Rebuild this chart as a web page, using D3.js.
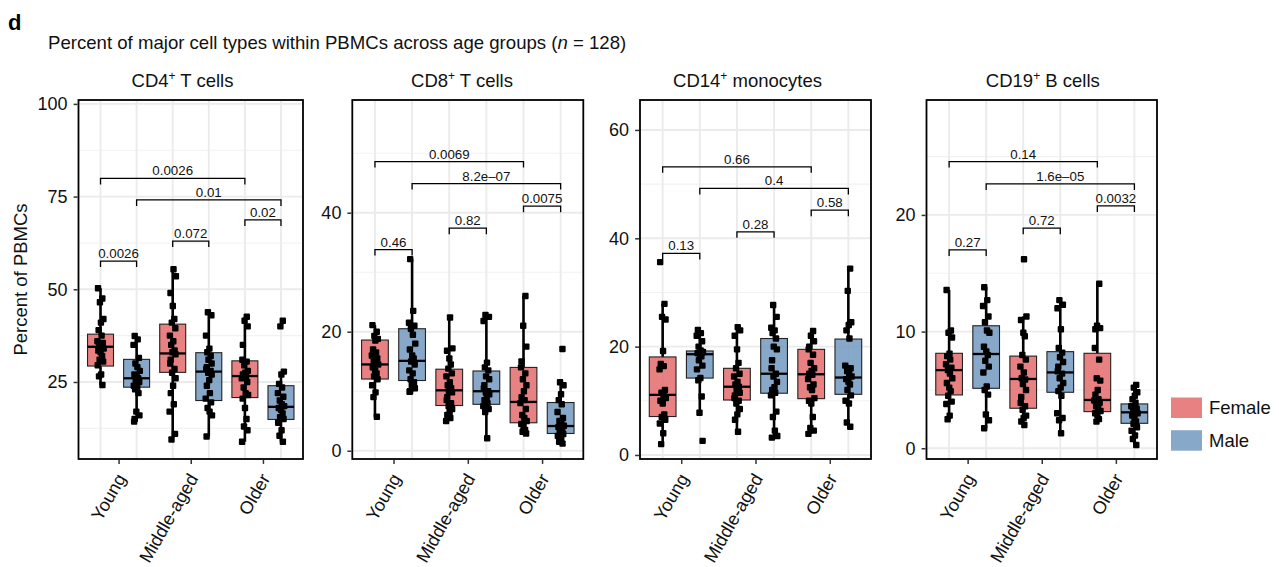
<!DOCTYPE html>
<html><head><meta charset="utf-8">
<script src="https://cdn.jsdelivr.net/npm/d3@7"></script>
<style>body{margin:0;background:#fff} text{font-family:"Liberation Sans",Arial,Helvetica,sans-serif}</style>
</head><body><svg id="c" width="1279" height="567"></svg>
<script>
// ---------- data ----------
const ageGroups = ["Young", "Middle-aged", "Older"];
const sexes = ["Female", "Male"];
const panelNames = ["CD4", "CD8", "CD14", "CD19"];
const panelSuffix = [" T cells", " T cells", " monocytes", " B cells"];
const yTicks = [[25, 50, 75, 100], [0, 20, 40], [0, 20, 40, 60], [0, 10, 20]];
const yMinor = [[12.5, 37.5, 62.5, 87.5], [10, 30, 50], [10, 30, 50], [5, 15, 25]];
const yDomains = [[4.23, 101.05], [-1.39, 58.94], [-0.74, 65.53], [-0.92, 29.85]];

// box stats: [lower whisker, Q1, median, Q3, upper whisker], order YF, YM, MF, MM, OF, OM
const cd4Box = [[24.2,29.3,34.5,37.9,50.3],[14.3,23.6,26.0,31.1,37.4],[9.5,27.6,32.7,40.6,55.4],[10.3,20.0,27.8,32.9,43.8],[8.9,20.8,26.6,30.7,42.6],[8.9,14.9,18.3,24.0,27.8]];
const cd8Box = [[5.7,12.05,14.5,18.6,21.1],[9.9,11.8,15.1,20.5,32.2],[5.0,7.6,10.15,13.7,22.4],[2.1,7.8,10.0,13.4,22.8],[2.9,4.7,8.2,14.0,26.0],[1.2,2.9,4.15,8.1,11.3]];
const cd14Box = [[2.0,7.1,11.1,18.1,27.9],[7.8,14.2,18.6,19.2,23.1],[4.3,10.15,12.6,16.0,23.6],[3.2,11.4,15.0,21.5,27.7],[3.9,10.4,14.9,19.5,22.9],[5.2,11.2,14.3,21.4,34.4]];
const cd19Box = [[2.49,4.57,6.7,8.14,13.57],[1.71,5.14,8.08,10.5,13.8],[2.0,3.43,5.94,7.9,11.3],[1.29,4.8,6.5,8.28,12.7],[2.28,3.14,4.14,8.14,14.1],[0.28,2.14,3.08,3.8,5.43]];

// individual samples
const cd4Points = [
  [50.3,47.5,46.5,42,41,39,37.5,36,35.5,35,34.5,34,33.5,33,32,31,30.5,29.5,27,26.5,24.2],
  [37.4,36.5,35,31.5,30,29,28,27,26.5,26,25.5,25,24,23.5,23,22,17,16,15,14.3],
  [55.4,53.5,49,45.5,42,41,39.5,37.5,36,35,33.5,33,32.5,31,30,28.5,27.5,26,24,22,19,17,11,9.5],
  [43.8,43,37.5,34,33,32,31,30,29,28.5,28,27.5,27,25.5,24,22,20.5,19.5,18,17,16,10.3],
  [42.6,41.5,40,35,31,30.5,29.5,28,27.5,27,26.5,26,25,23.5,22,21.5,20.5,18,15,13,12,8.9],
  [41.5,40,27.8,27,24.5,23.5,22,21,20,19,18.5,18,17.5,16.5,15.5,15,14,12,10.5,8.9]
];
const cd8Points = [
  [21.1,20,19.3,18.8,18.5,17,16.5,16,15.5,15,14.8,14.5,14,13.5,13,12.5,12,11,9.8,9,5.7],
  [32.2,23.5,21.5,21,20.5,19.5,18,17,16,15.5,15,14.5,13.5,13,12,11.5,11,10.5,10,9.9],
  [22.4,17.2,16.8,15.5,14.5,13.8,13,12.5,11.5,11,10.5,10,9.8,9,8.5,8,7.5,7,6.5,6,5.5,5.0],
  [22.8,22.5,21.8,14.8,14,13.5,12.5,12,11,10.5,10,9.8,9.5,9,8.5,8,7.5,7,6.5,2.1],
  [26.0,21,17.5,15,14,13,12,11,10,9,8.5,8,7,6,5.5,5,4.5,4,3.5,3.2,2.9],
  [17.1,11.5,11,9.5,8.5,7.8,6.5,5.5,5,4.5,4.2,4,3.5,3.2,3,2.8,2.5,2,1.5,1.2]
];
const cd14Points = [
  [35.6,27.9,25.5,25,19.2,16.8,16.4,15.8,12,11.5,11.1,10.5,10,9.5,7.5,7,6.5,5.8,4,2.0],
  [23.1,22.5,22,21,20,19.3,19,18.8,18.6,18.2,17.5,16.5,15.8,14.2,13.8,10.8,7.8,2.6],
  [23.6,23,22,19.5,17,16,15,14.5,13.5,13,12.6,12,11.5,11,10.5,10,9.5,8.5,7.5,6.5,4.3],
  [27.7,25.5,23.5,23,22.5,21.5,20,19.5,17.5,16,15,14.5,13.5,12.5,12,11.5,11,8,7,4.5,3.5,3.2],
  [22.9,22,21,20,19.5,18.5,17,16,15.5,15,14.8,14,13,12.5,12,10.5,10,9.5,7,5,4.5,3.9],
  [34.4,30.3,24.5,24,23,21.5,16.5,16,15.5,15,14.5,14,13.5,13,12,11,10,9.5,6,5.2]
];
const cd19Points = [
  [13.57,10.1,9.9,9.5,8.1,7.9,7.6,7.2,6.9,6.7,6.4,6.0,5.6,5.2,4.9,4.5,4.0,3.8,2.8,2.49],
  [13.8,12.7,12.2,11.3,10.8,10.1,9.9,8.7,8.3,8.0,7.5,7.0,6.5,5.3,5.0,4.6,2.9,2.4,1.71],
  [16.2,11.3,11.0,9.9,9.6,8.0,7.6,7.0,6.5,6.0,5.9,5.5,5.0,4.4,3.9,3.6,3.3,2.8,2.6,2.3,2.0],
  [12.7,12.3,12.0,10.2,8.6,8.2,7.8,7.4,7.0,6.6,6.4,6.0,5.6,5.2,4.9,4.5,3.0,2.6,2.4,1.29],
  [14.1,10.5,10.3,10.2,8.6,7.6,6.0,5.8,5.0,4.6,4.2,4.1,3.9,3.6,3.4,3.2,3.0,2.8,2.5,2.28],
  [5.43,5.2,4.8,4.5,4.2,3.9,3.6,3.4,3.2,3.1,3.0,2.8,2.6,2.3,2.1,1.8,1.5,1.1,0.8,0.28]
];

// pairwise comparisons (group indices), p-value labels and bracket heights
const comparisons = [[0,1],[2,3],[4,5],[0,4],[1,5]];
const cd4PLabels = ["0.0026","0.072","0.02","0.0026","0.01"];
const cd4PHeights = [57.6,63.0,68.7,79.9,74.1];
const cd8PLabels = ["0.46","0.82","0.0075","0.0069","8.2e\u201307"];
const cd8PHeights = [33.8,37.4,41.1,48.6,44.9];
const cd14PLabels = ["0.13","0.28","0.58","0.66","0.4"];
const cd14PHeights = [37.2,41.2,45.2,53.2,49.2];
const cd19PLabels = ["0.27","0.72","0.0032","0.14","1.6e\u201305"];
const cd19PHeights = [17.0,18.86,20.77,24.57,22.66];

// ---------- layout / style ----------
const boxes = [cd4Box, cd8Box, cd14Box, cd19Box];
const points = [cd4Points, cd8Points, cd14Points, cd19Points];
const pLabels = [cd4PLabels, cd8PLabels, cd14PLabels, cd19PLabels];
const pHeights = [cd4PHeights, cd8PHeights, cd14PHeights, cd19PHeights];
const frames = [[78.5,303],[352.3,583.3],[640,871],[926.5,1157]];
const titleCx = [182.5, 462, 747.5, 1042.8];
const yTop = 100, yBottom = 459;
const fillBase = {Female:"#E46B6B", Male:"#7399BF"};
const jit = [-2.5,1.8,-0.6,2.9,0.4,-1.9,1.1,-3.1,2.3,-1.2,0.8,3.2,-2.2,0.1,1.6,-0.9,2.6,-2.8,0.6,-1.5,1.9,-0.3,2.8,-2.0];
const FF = '"Liberation Sans",Arial,Helvetica,sans-serif';

const svg = d3.select("#c");

svg.append("text").attr("x",8).attr("y",30).attr("font-size",22).attr("font-weight","bold").text("d");
const mt = svg.append("text").attr("x",48).attr("y",49).attr("font-size",18.6).attr("fill","#111");
mt.append("tspan").text("Percent of major cell types within PBMCs across age groups (");
mt.append("tspan").attr("font-style","italic").text("n");
mt.append("tspan").text(" = 128)");

svg.append("text").attr("transform","translate(27,279.5) rotate(-90)").attr("text-anchor","middle")
  .attr("font-size",18.5).attr("fill","#111").text("Percent of PBMCs");

panelNames.forEach((name, pi) => {
  const [x0, x1] = frames[pi];
  const g = svg.append("g");
  const x = d3.scalePoint().domain(ageGroups).range([x0, x1]).padding(0.555);
  const step = x.step();
  const dodge = step * 0.25, bw = step * 0.36;
  const y = d3.scaleLinear().domain(yDomains[pi]).range([yBottom, yTop]);
  const groups = [];
  ageGroups.forEach(a => sexes.forEach(s => groups.push({age:a, sex:s, cx: x(a) + (s === "Female" ? -dodge : dodge)})));

  // grid
  g.selectAll(".minor").data(yMinor[pi]).join("line")
    .attr("x1",x0).attr("x2",x1).attr("y1",d=>y(d)).attr("y2",d=>y(d))
    .attr("stroke","#F2F2F2").attr("stroke-width",1.1);
  g.selectAll(".major").data(yTicks[pi]).join("line")
    .attr("x1",x0).attr("x2",x1).attr("y1",d=>y(d)).attr("y2",d=>y(d))
    .attr("stroke","#EBEBEB").attr("stroke-width",1.9);
  g.selectAll(".vgrid").data(groups).join("line")
    .attr("x1",d=>d.cx).attr("x2",d=>d.cx).attr("y1",yTop).attr("y2",yBottom)
    .attr("stroke","#EBEBEB").attr("stroke-width",1.9);

  // boxes
  groups.forEach((gr, gi) => {
    const b = boxes[pi][gi];
    g.append("line").attr("x1",gr.cx).attr("x2",gr.cx).attr("y1",y(b[3])).attr("y2",y(b[4]))
      .attr("stroke","#000").attr("stroke-width",2.6);
    g.append("line").attr("x1",gr.cx).attr("x2",gr.cx).attr("y1",y(b[1])).attr("y2",y(b[0]))
      .attr("stroke","#000").attr("stroke-width",2.6);
    g.append("rect").attr("x",gr.cx - bw/2).attr("width",bw)
      .attr("y",y(b[3])).attr("height",y(b[1]) - y(b[3]))
      .attr("fill",fillBase[gr.sex]).attr("fill-opacity",0.85)
      .attr("stroke","#222").attr("stroke-width",1.1);
    g.append("line").attr("x1",gr.cx - bw/2).attr("x2",gr.cx + bw/2).attr("y1",y(b[2])).attr("y2",y(b[2]))
      .attr("stroke","#000").attr("stroke-width",2.3);
  });
  // points
  groups.forEach((gr, gi) => {
    g.selectAll(null).data(points[pi][gi]).join("rect")
      .attr("x",(d,i)=>gr.cx + jit[(i + gi*5) % jit.length] - 3.2)
      .attr("y",d=>y(d) - 3.2).attr("width",6.4).attr("height",6.4).attr("rx",1)
      .attr("fill","#000");
  });
  // brackets
  comparisons.forEach((c, ci) => {
    const xa = groups[c[0]].cx, xb = groups[c[1]].cx, yy = y(pHeights[pi][ci]);
    g.append("path").attr("d",`M${xa},${yy+6}V${yy}H${xb}V${yy+6}`)
      .attr("fill","none").attr("stroke","#000").attr("stroke-width",1.3);
    g.append("text").attr("x",(xa+xb)/2).attr("y",yy-3).attr("text-anchor","middle")
      .attr("font-size",13.3).attr("fill","#111").text(pLabels[pi][ci]);
  });
  // frame
  g.append("rect").attr("x",x0).attr("y",yTop).attr("width",x1-x0).attr("height",yBottom-yTop)
    .attr("fill","none").attr("stroke","#000").attr("stroke-width",1.8);

  // y axis
  const ya = g.append("g").attr("transform",`translate(${x0 - 0.9},0)`)
    .call(d3.axisLeft(y).tickValues(yTicks[pi]).tickSize(4).tickPadding(6).tickFormat(d3.format("d")));
  ya.select(".domain").remove();
  ya.selectAll(".tick line").attr("stroke","#333").attr("stroke-width",1.5);
  ya.selectAll(".tick text").attr("font-size",18).attr("fill","#111").attr("font-family",FF);

  // x axis
  const xa = g.append("g").attr("transform",`translate(0,${yBottom + 0.9})`)
    .call(d3.axisBottom(x).tickSize(4).tickFormat(""));
  xa.select(".domain").remove();
  xa.selectAll(".tick line").attr("stroke","#333").attr("stroke-width",1.5);
  g.selectAll(".xl").data(ageGroups).join("text")
    .attr("transform",d=>`translate(${x(d) - 3},${yBottom + 13}) rotate(-60)`)
    .attr("text-anchor","end").attr("dy","0.7em")
    .attr("font-size",18).attr("fill","#111").text(d=>d);

  // panel title
  const t = svg.append("text").attr("x",titleCx[pi]).attr("y",87).attr("text-anchor","middle")
    .attr("font-size",18.5).attr("fill","#111");
  t.append("tspan").text(name);
  t.append("tspan").attr("font-size",12).attr("dy",-7).text("+");
  t.append("tspan").attr("dy",7).text(panelSuffix[pi]);
});

// legend
const lg = svg.append("g");
sexes.forEach((s, i) => {
  lg.append("rect").attr("x",1171).attr("y",397.5 + i*32.7).attr("width",31).attr("height",20.5)
    .attr("fill",fillBase[s]).attr("fill-opacity",0.85);
  lg.append("text").attr("x",1209).attr("y",414 + i*32.5).attr("font-size",18.5).attr("fill","#111").text(s);
});
</script></body></html>
